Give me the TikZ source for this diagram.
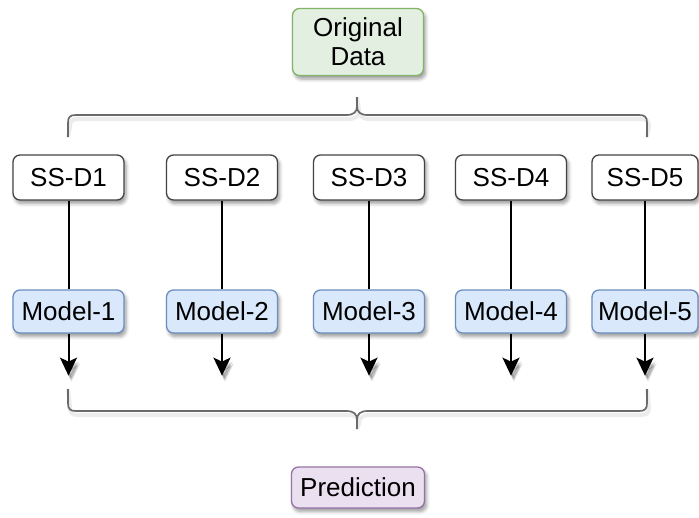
\documentclass[tikz,border=0pt]{standalone}
\usepackage{fontspec}
\setmainfont{Liberation Sans}
\usetikzlibrary{arrows.meta,shadows.blur}

\definecolor{greenfill}{HTML}{E3F0E1}
\definecolor{greenline}{HTML}{82B366}
\definecolor{bluefill}{HTML}{DAE8FC}
\definecolor{blueline}{HTML}{6C8EBF}
\definecolor{purplefill}{HTML}{EAE0F0}
\definecolor{purpleline}{HTML}{9673A6}
\definecolor{greyline}{HTML}{444444}
\definecolor{braceline}{HTML}{6A6A6A}

\tikzset{
  softshadow/.style={blur shadow={shadow xshift=2pt, shadow yshift=-3.5pt,
      shadow blur radius=3.5pt, shadow blur steps=6, shadow opacity=40}},
  box/.style={draw, rounded corners=7pt, line width=1.3pt, softshadow,
      font=\fontsize{26}{29}\selectfont, align=center, inner sep=0pt},
  datbox/.style={box, draw=greyline, fill=white, minimum width=111pt, minimum height=45pt},
  modbox/.style={box, draw=blueline, fill=bluefill, minimum width=111pt, minimum height=43pt},
  topbox/.style={box, draw=greenline, fill=greenfill, minimum width=131pt, minimum height=67pt},
  outbox/.style={box, draw=purpleline, fill=purplefill, minimum width=133pt, minimum height=41pt},
  link/.style={line width=2pt, black},
  feed/.style={link, -{Stealth[length=18pt, width=17pt, inset=4pt]}},
  feedshade/.style={feed, opacity=0.13},
  bracket/.style={draw=braceline, line width=1.7pt},
  bracketshade/.style={draw=black!60, line width=4pt, opacity=0.12, shift={(2,4)}}
}

\begin{document}
\begin{tikzpicture}[x=1pt, y=-1pt]
  \useasboundingbox (0,0) rectangle (699,517);

  % source data
  \node[topbox] (od) at (358,42) {Original\\Data};

  % subsampled data sets
  \node[datbox] (d1) at (68.5,177.5) {SS-D1};
  \node[datbox] (d2) at (222,177.5) {SS-D2};
  \node[datbox] (d3) at (369,177.5) {SS-D3};
  \node[datbox] (d4) at (511,177.5) {SS-D4};
  \node[datbox, minimum width=106pt] (d5) at (645,177.5) {SS-D5};

  % models
  \node[modbox] (m1) at (68.5,311.5) {Model-1};
  \node[modbox] (m2) at (222,311.5) {Model-2};
  \node[modbox] (m3) at (369,311.5) {Model-3};
  \node[modbox] (m4) at (511,311.5) {Model-4};
  \node[modbox, minimum width=106pt] (m5) at (645,311.5) {Model-5};

  % combined output
  \node[outbox] (pr) at (358,487.5) {Prediction};

  % data set -> model -> output arrow, with a faint shade under each head
  \foreach \i in {1,...,5} {
    \coordinate (a\i) at ([yshift=-42pt]m\i.south);
    \draw[link] (d\i.south) -- (m\i.north);
    \draw[feedshade] ([shift={(2,4)}]a\i) ++(0,-18) -- ++(0,18);
    \draw[feedshade] ([shift={(3,6)}]a\i) ++(0,-18) -- ++(0,18);
    \draw[feed] (m\i.south) -- (a\i);
  }

  % brace end points
  \coordinate (tl) at (68,137);
  \coordinate (tr) at (647,137);
  \coordinate (tt) at (357,97);
  \coordinate (bl) at (68,389);
  \coordinate (br) at (647,389);
  \coordinate (bt) at (357,429);

  % upper brace: splitting the original data (soft shade, then the line)
  \foreach \sty in {bracketshade, bracket}
    \draw[\sty]
      (tl) -- (68,123) .. controls (68,117) and (70,115) .. (76,115)
      -- (346,115) .. controls (354,115) and (357,112) .. (357,106) -- (tt)
      (357,106) .. controls (357,112) and (360,115) .. (368,115)
      -- (639,115) .. controls (645,115) and (647,117) .. (647,123) -- (tr);

  % lower brace: merging the predictions
  \foreach \sty in {bracketshade, bracket}
    \draw[\sty]
      (bl) -- (68,403) .. controls (68,409) and (70,411) .. (76,411)
      -- (346,411) .. controls (354,411) and (357,414) .. (357,420) -- (bt)
      (357,420) .. controls (357,414) and (360,411) .. (368,411)
      -- (639,411) .. controls (645,411) and (647,409) .. (647,403) -- (br);
\end{tikzpicture}
\end{document}
